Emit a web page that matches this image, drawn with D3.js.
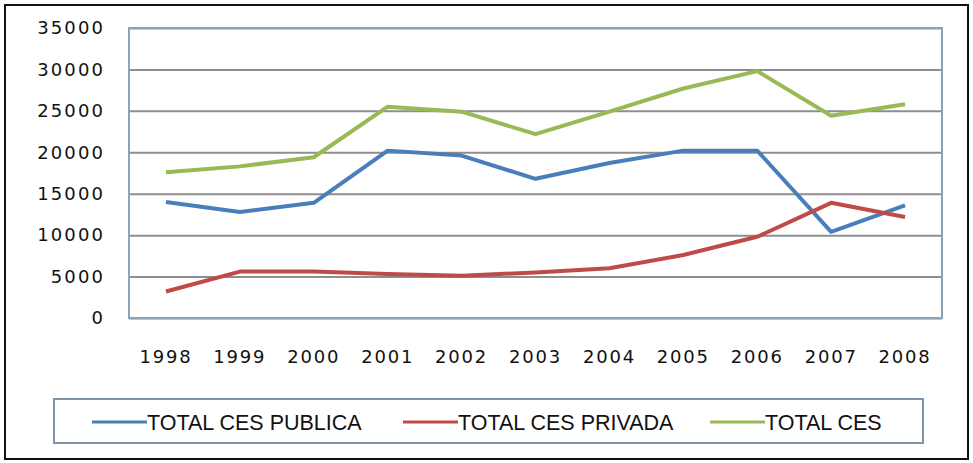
<!DOCTYPE html>
<html>
<head>
<meta charset="utf-8">
<script src="https://cdn.jsdelivr.net/npm/d3@7"></script>
<style>
  body { margin: 0; background: #fff; }
  svg { display: block; }
</style>
</head>
<body>
<div id="chart-area"></div>
<script>
// data
const years = ["1998", "1999", "2000", "2001", "2002", "2003", "2004", "2005", "2006", "2007", "2008"]
const publica = [14000, 12800, 13900, 20200, 19600, 16800, 18700, 20200, 20200, 10400, 13600]
const privada = [3200, 5600, 5600, 5300, 5100, 5500, 6000, 7600, 9800, 13900, 12200]
const totalCes = [17600, 18300, 19400, 25500, 24900, 22200, 24900, 27700, 29800, 24400, 25800]
const yTicks = [0, 5000, 10000, 15000, 20000, 25000, 30000, 35000]
const seriesNames = ["TOTAL CES PUBLICA", "TOTAL CES PRIVADA", "TOTAL CES"]
const seriesColors = ["#4a7ebb", "#be4b48", "#98b954"]

const W = 973, H = 463
const PLOT = { LEFT: 129, RIGHT: 942, TOP: 28, BOTTOM: 318 }

const svg = d3.select("#chart-area").append("svg")
	.attr("width", W)
	.attr("height", H)

// outer frame
svg.append("rect")
	.attr("x", 5).attr("y", 5)
	.attr("width", W - 10).attr("height", H - 9)
	.attr("fill", "#fff")
	.attr("stroke", "#111")
	.attr("stroke-width", 2)

// scales
const x = d3.scaleBand().domain(years).range([PLOT.LEFT, PLOT.RIGHT])
const y = d3.scaleLinear().domain([0, 35000]).range([PLOT.BOTTOM, PLOT.TOP])
const cx = d => x(d) + x.bandwidth() / 2

// gridlines + y labels
const yAxisCall = d3.axisLeft(y)
	.tickValues(yTicks)
	.tickSize(-(PLOT.RIGHT - PLOT.LEFT))
	.tickPadding(24)
	.tickFormat(d3.format("d"))

const yAxis = svg.append("g")
	.attr("transform", `translate(${PLOT.LEFT}, 0)`)
	.call(yAxisCall)
yAxis.select(".domain").remove()
yAxis.selectAll("line")
	.attr("stroke", "#8e8e8e")
	.attr("stroke-width", 2)
yAxis.selectAll("text")
	.attr("fill", "#111")
	.attr("font-family", "DejaVu Sans")
	.attr("font-size", "18px")
	.attr("letter-spacing", "2.1px")

// plot frame
svg.append("rect")
	.attr("x", PLOT.LEFT).attr("y", PLOT.TOP)
	.attr("width", PLOT.RIGHT - PLOT.LEFT)
	.attr("height", PLOT.BOTTOM - PLOT.TOP)
	.attr("fill", "none")
	.attr("stroke", "#8fa2b6")
	.attr("stroke-width", 2)

// x labels
const xAxisCall = d3.axisBottom(x).tickSize(0).tickPadding(32)
const xAxis = svg.append("g")
	.attr("transform", `translate(0, ${PLOT.BOTTOM})`)
	.call(xAxisCall)
xAxis.select(".domain").remove()
xAxis.selectAll("text")
	.attr("fill", "#111")
	.attr("font-family", "DejaVu Sans")
	.attr("font-size", "18px")
	.attr("letter-spacing", "1.8px")

// lines
const line = d3.line()
	.x((d, i) => cx(years[i]))
	.y(d => y(d))

const allSeries = [publica, privada, totalCes]
allSeries.forEach((s, i) => {
	svg.append("path")
		.attr("fill", "none")
		.attr("stroke", seriesColors[i])
		.attr("stroke-width", 4)
		.attr("stroke-linejoin", "round")
		.attr("d", line(s))
})

// legend
const legend = svg.append("g")
legend.append("rect")
	.attr("x", 54).attr("y", 399)
	.attr("width", 869).attr("height", 44)
	.attr("fill", "#fff")
	.attr("stroke", "#7f93a8")
	.attr("stroke-width", 2)

const legendX = [92, 403, 710]
seriesNames.forEach((name, i) => {
	const lg = legend.append("g").attr("transform", `translate(${legendX[i]}, 422)`)
	lg.append("line")
		.attr("x1", 0).attr("x2", 55)
		.attr("stroke", seriesColors[i])
		.attr("stroke-width", 3)
	lg.append("text")
		.attr("x", 55)
		.attr("dy", "0.36em")
		.attr("fill", "#111")
		.attr("font-family", "Liberation Sans, Arial, sans-serif")
		.attr("font-size", "21.5px")
		.text(name)
})
</script>
</body>
</html>
